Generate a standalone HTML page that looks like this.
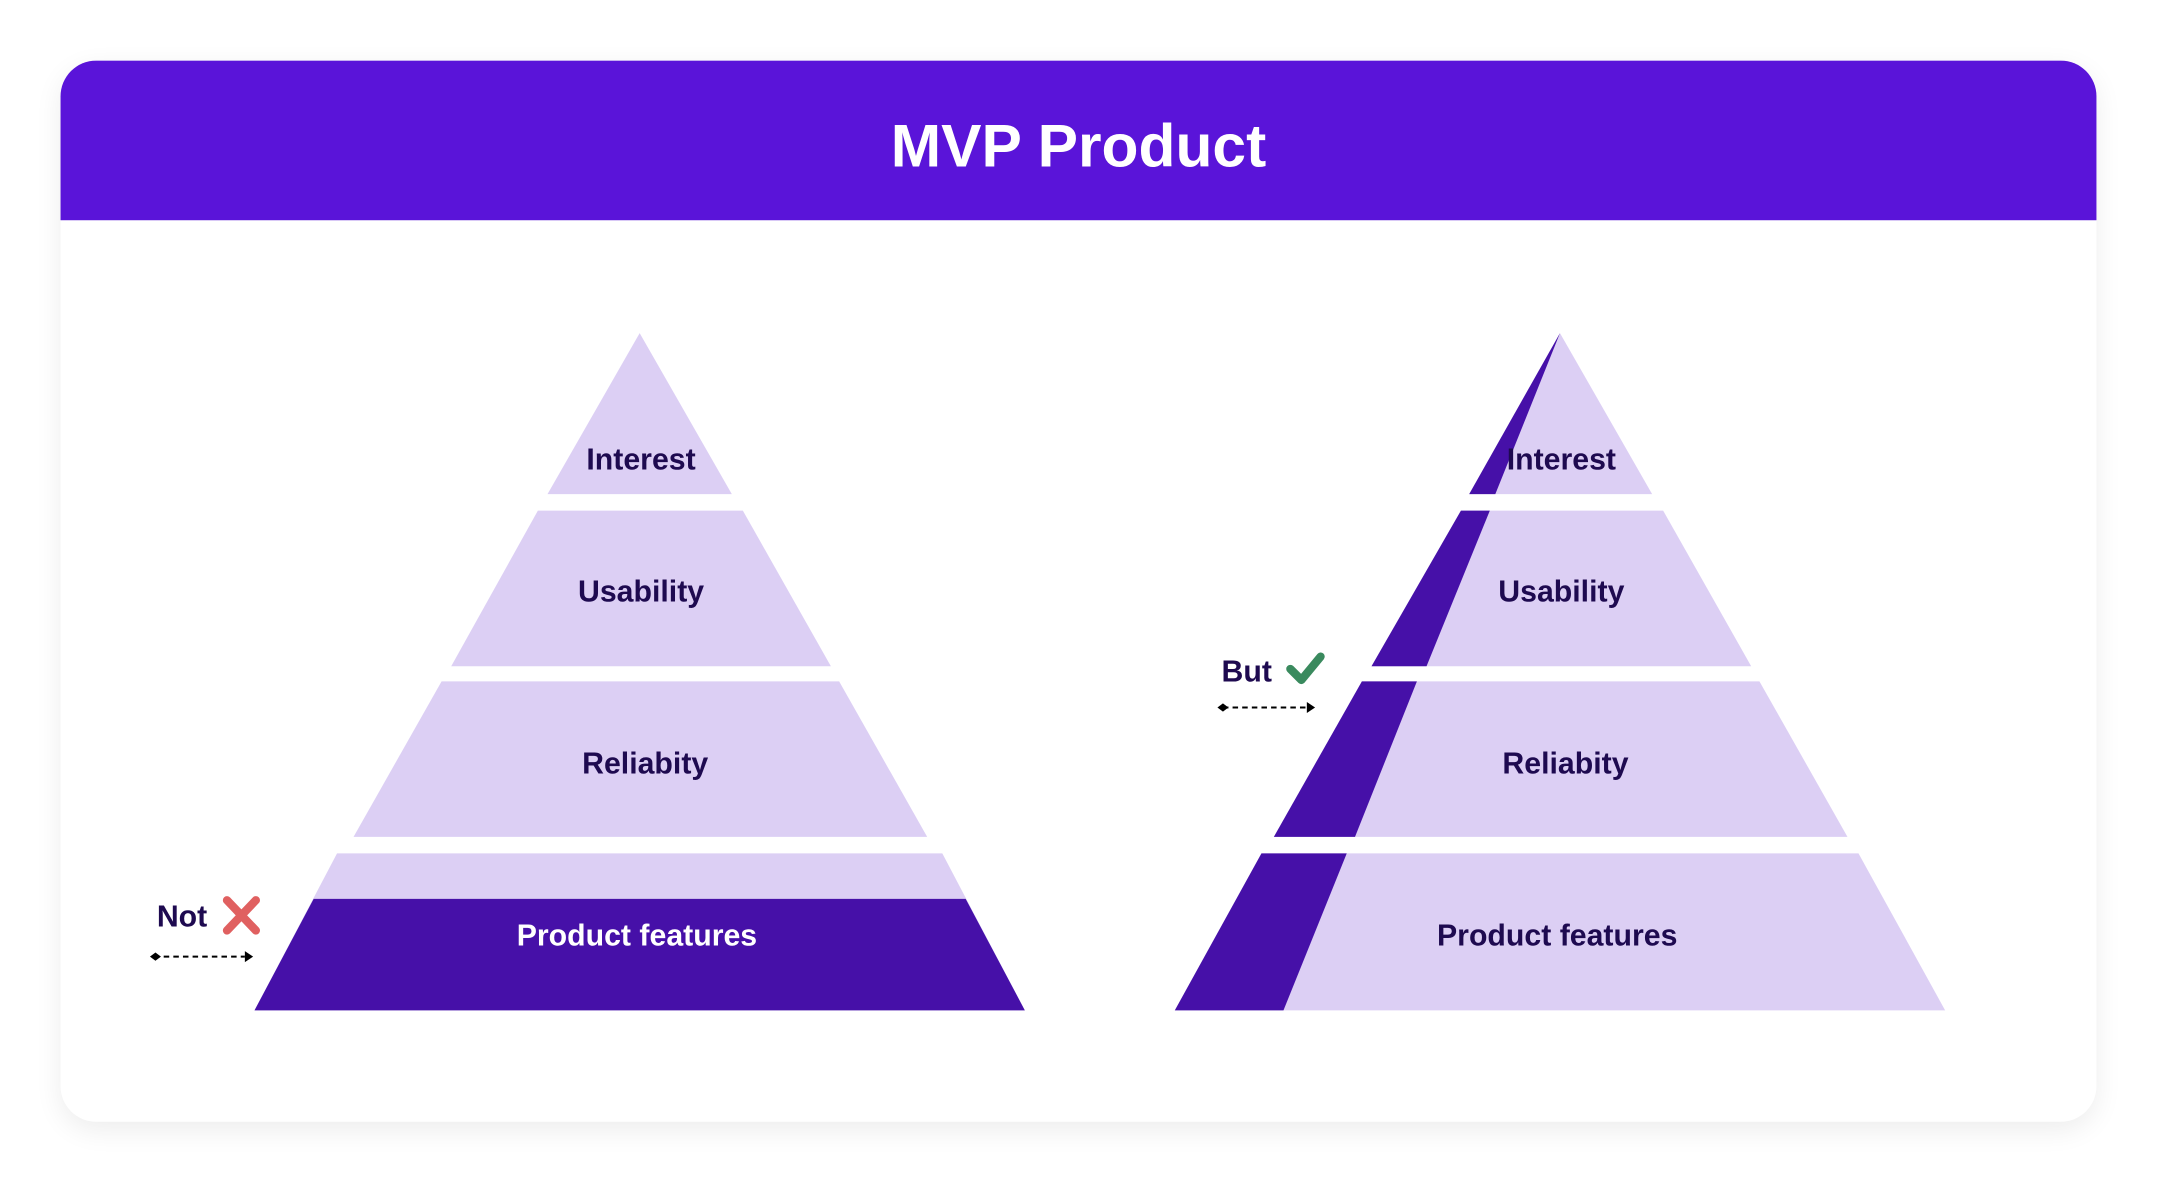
<!DOCTYPE html>
<html><head><meta charset="utf-8"><style>
html,body{margin:0;padding:0;background:#fff;width:2157px;height:1181px;overflow:hidden}
svg{display:block}
text{font-family:"Liberation Sans",sans-serif;font-weight:bold}
</style></head><body>
<svg width="2157" height="1181" viewBox="0 0 1568 858" preserveAspectRatio="none">
<defs>
<filter id="sh" x="-5%" y="-5%" width="110%" height="115%"><feGaussianBlur stdDeviation="10"/></filter>
<clipPath id="card"><rect x="44" y="44" width="1480" height="771" rx="26"/></clipPath>
</defs>
<rect x="44" y="50" width="1480" height="771" rx="26" fill="#000" opacity="0.07" filter="url(#sh)"/>
<rect x="44" y="44" width="1480" height="771" rx="26" fill="#fff"/>
<rect x="44" y="44" width="1480" height="116" fill="#5a14d9" clip-path="url(#card)"/>
<text x="784" y="121" text-anchor="middle" font-size="44" fill="#fff">MVP Product</text>

<!-- left pyramid -->
<g fill="#dccff4">
<polygon points="465,242 532,359 398,359"/>
<polygon points="391,371 540,371 604,484 328,484"/>
<polygon points="321,495 610,495 674,608 257,608"/>
<polygon points="245,620 685,620 745,734 185,734"/>
</g>
<polygon points="228,653 702,653 745,734 185,734" fill="#4610a8"/>
<g font-size="22" text-anchor="middle" fill="#1e0a50">
<text x="466" y="341">Interest</text>
<text x="466" y="437">Usability</text>
<text x="469" y="562">Reliabity</text>
<text x="463" y="687" fill="#fff">Product features</text>
</g>
<text x="114" y="673" font-size="22" fill="#1e0a50">Not</text>
<path d="M165,654 L186,676 M186,654 L165,676" stroke="#e06060" stroke-width="6" stroke-linecap="round"/>
<line x1="112" y1="695" x2="178" y2="695" stroke="#000" stroke-width="1.5" stroke-dasharray="4,3"/>
<polygon points="109,695 113,692 117,695 113,698" fill="#000"/>
<polygon points="178,691 184,695 178,699" fill="#000"/>

<!-- right pyramid -->
<g fill="#dccff4">
<polygon points="1134,242 1201,359 1068,359"/>
<polygon points="1062,371 1209,371 1273,484 997,484"/>
<polygon points="990,495 1279,495 1343,608 926,608"/>
<polygon points="917,620 1351,620 1414,734 854,734"/>
</g>
<g fill="#4610a8">
<polygon points="1134,242 1087,359 1068,359"/>
<polygon points="1062,371 1083,371 1037,484 997,484"/>
<polygon points="990,495 1030,495 985,608 926,608"/>
<polygon points="917,620 979,620 933,734 854,734"/>
</g>
<g font-size="22" text-anchor="middle" fill="#1e0a50">
<text x="1135" y="341">Interest</text>
<text x="1135" y="437">Usability</text>
<text x="1138" y="562">Reliabity</text>
<text x="1132" y="687">Product features</text>
</g>
<text x="888" y="495" font-size="22" fill="#1e0a50">But</text>
<path d="M938,486 L946,494 L960,477" stroke="#3a8a5e" stroke-width="6" fill="none" stroke-linecap="round" stroke-linejoin="round"/>
<line x1="889" y1="514" x2="950" y2="514" stroke="#000" stroke-width="1.5" stroke-dasharray="4,3"/>
<polygon points="885,514 889,511 893,514 889,517" fill="#000"/>
<polygon points="950,510 956,514 950,518" fill="#000"/>
</svg>
</body></html>
